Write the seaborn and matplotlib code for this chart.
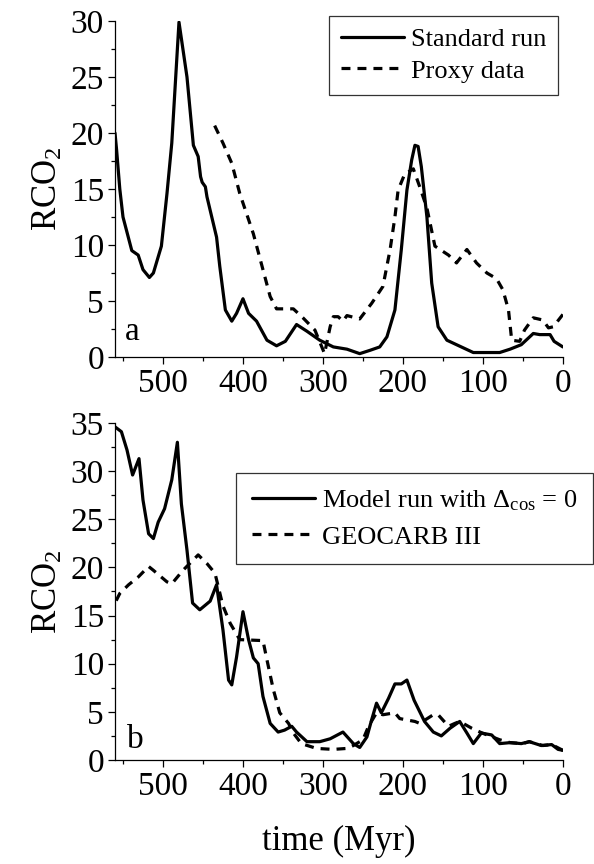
import matplotlib
matplotlib.use("Agg")
import matplotlib.pyplot as plt
import seaborn as sns
import pandas as pd

# panel a: standard run vs proxy data
std_time = [560, 558, 554, 550, 539, 531, 525, 517, 512, 502, 495, 489, 480, 470, 462, 456,
            453, 451, 447, 445, 433, 429, 422, 414, 408, 400, 393, 383, 370, 358, 347,
            333, 320, 304, 287, 270, 254, 241, 229, 220, 210, 202, 195, 189, 185, 181,
            177, 170, 164, 156, 145, 127, 112, 79, 66, 52, 37, 29, 16, 11, 0]
std_rco2 = [20, 18.5, 15.0, 12.5, 9.5, 9.1, 7.8, 7.1, 7.5, 9.9, 14.6, 19.1, 29.9, 25, 18.9, 17.9,
            16.1, 15.6, 15.2, 14.3, 10.7, 8.1, 4.2, 3.2, 3.9, 5.2, 3.9, 3.2, 1.5, 1.0, 1.4,
            2.9, 2.3, 1.5, 0.9, 0.7, 0.3, 0.6, 0.9, 1.8, 4.2, 9.6, 14.9, 17.6, 18.9, 18.8,
            17, 12.5, 6.6, 2.7, 1.5, 0.9, 0.4, 0.4, 0.7, 1.1, 2.1, 2.0, 2.0, 1.4, 0.9]

proxy_time = [439, 425, 414, 404, 387, 375, 366, 358, 337, 325, 310, 298, 291, 287, 281,
              275, 270, 254, 239, 225, 216, 210, 206, 198, 187, 179, 170, 165, 160, 143,
              133, 120, 108, 95, 83, 75, 68, 64, 54, 48, 37, 25, 18, 12, 0]
proxy_rco2 = [21.2, 19.1, 17.3, 14.6, 11.0, 7.8, 5.4, 4.3, 4.3, 3.5, 2.4, 0.3, 2.7, 3.6, 3.6,
              3.2, 3.7, 3.4, 4.8, 6.3, 9.6, 12.5, 14.9, 16.3, 16.8, 15.2, 13.3, 11.6, 9.9, 9.1,
              8.4, 9.6, 8.4, 7.5, 7.0, 6.0, 4.2, 1.5, 1.4, 2.4, 3.5, 3.3, 2.6, 2.7, 3.8]

# panel b: model run with delta_cos = 0 vs GEOCARB III
model_time = [560, 552, 545, 538, 530, 525, 518, 512, 506, 498, 489, 482, 477, 470, 463,
              454, 441, 433, 425, 418, 414, 408, 400, 393, 387, 381, 375, 366, 356, 348,
              339, 333, 320, 304, 291, 275, 262, 254, 245, 239, 233, 227, 218, 210, 202,
              195, 186, 173, 162, 152, 141, 129, 120, 112, 102, 89, 79, 66, 52, 42,
              27, 14, 6, 0]
model_rco2 = [34.6, 34.1, 32.2, 29.6, 31.3, 27, 23.5, 23, 24.7, 26.1, 29.1, 33.0, 26.6, 21.8, 16.3,
              15.6, 16.5, 18.2, 13.5, 8.3, 7.8, 10.7, 15.4, 12.5, 10.6, 10.0, 6.6, 3.8, 2.9, 3.1,
              3.5, 2.9, 1.9, 1.9, 2.2, 2.9, 1.7, 1.3, 2.4, 4.2, 5.9, 4.9, 6.4, 7.9, 7.9,
              8.3, 6.2, 4.0, 2.9, 2.5, 3.3, 4.0, 2.8, 1.7, 2.8, 2.6, 1.7, 1.8, 1.7, 1.9,
              1.5, 1.6, 1.1, 1.0]

geocarb_time = [560, 554, 543, 531, 518, 512, 495, 489, 475, 456, 445, 435, 425, 416, 404,
                375, 370, 362, 354, 343, 337, 327, 308, 287, 270, 262, 250, 243, 233, 225,
                210, 204, 185, 179, 162, 156, 143, 135, 129, 114, 101, 79, 66, 50, 42,
                25, 14, 0]
geocarb_rco2 = [16.3, 17.3, 18.2, 19.0, 20.1, 19.7, 18.5, 18.3, 19.7, 21.3, 20.4, 19.4, 16.0, 14.2, 12.5,
                12.4, 10.4, 7.3, 4.9, 3.8, 2.8, 1.7, 1.2, 1.1, 1.2, 1.5, 2.1, 3.5, 4.9, 4.7,
                4.9, 4.3, 4.0, 3.8, 4.7, 4.7, 3.5, 3.8, 4.0, 3.3, 2.8, 2.1, 1.8, 1.7, 1.9,
                1.5, 1.6, 1.0]

LW = 2.3
DASH = (2.8, 2.2)


def make_frame(series):
    parts = []
    for name, t, r in series:
        parts.append(pd.DataFrame({"time": t, "rco2": r, "run": name}))
    return pd.concat(parts, ignore_index=True)


def draw_panel(ax, series, ylim, letter, letter_pos, legend_anchor, legend_kw):
    df = make_frame(series)
    names = [s[0] for s in series]
    sns.lineplot(data=df, x="time", y="rco2", style="run", style_order=names,
                 dashes={names[0]: "", names[1]: DASH}, color="black",
                 linewidth=LW, estimator=None, legend=False, ax=ax)

    ax.set_xlim(560, 0)
    ax.set_ylim(*ylim)
    ax.set_xticks([500, 400, 300, 200, 100, 0])
    ax.set_xticks(range(550, -1, -50), minor=True)
    ax.set_yticks(range(0, int(ylim[1]) + 1, 5))
    ax.set_yticks([v / 2 for v in range(0, int(ylim[1]) * 2 + 1, 5)], minor=True)
    ax.tick_params(which="major", direction="out", length=5, width=0.9, labelsize=24, pad=3)
    ax.tick_params(which="minor", direction="out", length=3, width=0.9)
    sns.despine(ax=ax)
    for s in ["left", "bottom"]:
        ax.spines[s].set_linewidth(0.9)
        ax.spines[s].set_color("black")

    ax.set_xlabel("")
    ax.set_ylabel("RCO$_2$", fontsize=25, labelpad=4)
    ax.text(letter_pos[0], letter_pos[1], letter, transform=ax.transAxes,
            fontsize=24, ha="left", va="baseline")

    leg = ax.legend(ax.get_lines()[:2], names, loc="upper right",
                    bbox_to_anchor=legend_anchor, borderaxespad=0,
                    fontsize=19, frameon=True, fancybox=False,
                    handletextpad=0.25, **legend_kw)
    leg.get_frame().set_edgecolor("black")
    leg.get_frame().set_linewidth(0.9)


def main():
    sns.set_theme(style="ticks")
    plt.rcParams["font.family"] = ["Liberation Serif", "DejaVu Serif"]
    plt.rcParams["mathtext.fontset"] = "custom"
    plt.rcParams["mathtext.rm"] = "Liberation Serif"
    plt.rcParams["mathtext.it"] = "Liberation Serif:italic"
    plt.rcParams["text.color"] = "black"
    plt.rcParams["xtick.color"] = "black"
    plt.rcParams["ytick.color"] = "black"
    plt.rcParams["axes.labelcolor"] = "black"

    fig = plt.figure(figsize=(5.94, 8.64), dpi=100)
    ax_a = fig.add_axes([0.1936, 0.5868, 0.754, 0.3889])
    ax_b = fig.add_axes([0.1936, 0.1204, 0.754, 0.3900])

    draw_panel(ax_a,
               [("Standard run", std_time, std_rco2),
                ("Proxy data", proxy_time, proxy_rco2)],
               (0, 30), "a", (0.022, 0.05), (0.989, 1.015),
               dict(handlelength=2.4, labelspacing=0.3, borderpad=0.45))

    draw_panel(ax_b,
               [(r"Model run with $\Delta_{\rm cos}$ = 0", model_time, model_rco2),
                ("GEOCARB III", geocarb_time, geocarb_rco2)],
               (0, 35), "b", (0.027, 0.036), (1.067, 0.852),
               dict(handlelength=2.4, labelspacing=0.45, borderpad=0.6))

    ax_b.set_xlabel("time (Myr)", fontsize=25, labelpad=17)

    fig.savefig("out.png", dpi=100)


if __name__ == "__main__":
    main()
